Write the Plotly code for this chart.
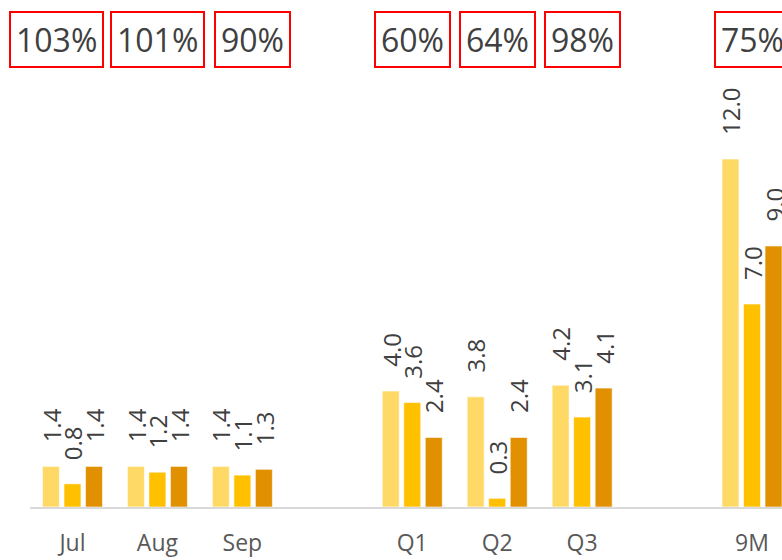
import plotly.graph_objects as go

categories = ["Jul", "Aug", "Sep", " ", "Q1", "Q2", "Q3", "  ", "9M"]
series_a = [1.4, 1.4, 1.4, None, 4.0, 3.8, 4.2, None, 12.0]
series_b = [0.8, 1.2, 1.1, None, 3.6, 0.3, 3.1, None, 7.0]
series_c = [1.4, 1.4, 1.3, None, 2.4, 2.4, 4.1, None, 9.0]
pct_labels = ["103%", "101%", "90%", None, "60%", "64%", "98%", None, "75%"]

colors = ["#FFD966", "#FFC000", "#E09000"]
series = [series_a, series_b, series_c]
names = ["A", "B", "C"]

fig = go.Figure()
for s, c, n in zip(series, colors, names):
    fig.add_trace(go.Bar(
        x=categories, y=s, name=n,
        marker=dict(color=c, line=dict(color="rgba(255,255,255,0.6)", width=1)),
        hoverinfo="skip",
    ))

label_font = dict(family="Open Sans", size=24, color="#404040")
offsets = [-21.5, 0, 21.5]
for s, off in zip(series, offsets):
    for cat, v in zip(categories, s):
        if v is None:
            continue
        fig.add_annotation(
            x=cat, y=v, xref="x", yref="y", text=f"{v:.1f}",
            textangle=-90, showarrow=False, xanchor="center", yanchor="bottom",
            xshift=off, yshift=22, font=label_font,
        )

pct_shift = {"103%": -16, "90%": 10}
for cat, p in zip(categories, pct_labels):
    if p is None:
        continue
    fig.add_annotation(
        x=cat, y=1, xref="x", yref="paper", text=p, showarrow=False,
        xanchor="center", yanchor="top", yshift=69, xshift=pct_shift.get(p, 0),
        font=dict(family="Open Sans", size=32, color="#404040"),
        bordercolor="#FF0000", borderwidth=2, borderpad=5, bgcolor="white",
    )

fig.update_layout(
    width=782, height=560,
    margin=dict(l=29.5, r=0, t=80, b=53),
    paper_bgcolor="white", plot_bgcolor="white",
    barmode="group", bargap=0.24, bargroupgap=0.21,
    showlegend=False,
    xaxis=dict(
        type="category", categoryorder="array", categoryarray=categories,
        range=[-0.5, 8.353], showgrid=False, zeroline=False,
        showline=True, linecolor="#D9D9D9", linewidth=2,
        ticks="outside", ticklen=14, tickcolor="rgba(0,0,0,0)",
        tickfont=dict(family="Open Sans", size=23, color="#595959"),
    ),
    yaxis=dict(range=[0, 14.724], visible=False, showgrid=False, zeroline=False),
)

fig.write_html(
    "out.html",
    config={"displayModeBar": False, "staticPlot": True},
    post_script="document.body.style.margin='0';document.body.style.overflow='hidden';",
)
